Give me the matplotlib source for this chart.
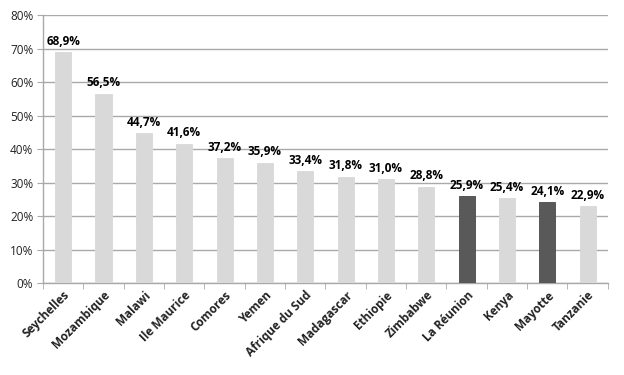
import matplotlib
matplotlib.use("Agg")
import matplotlib.pyplot as plt
from matplotlib.ticker import FixedLocator

categories = ["Seychelles", "Mozambique", "Malawi", "Ile Maurice", "Comores", "Yemen",
              "Afrique du Sud", "Madagascar", "Ethiopie", "Zimbabwe", "La Réunion",
              "Kenya", "Mayotte", "Tanzanie"]
values = [68.9, 56.5, 44.7, 41.6, 37.2, 35.9, 33.4, 31.8, 31.0, 28.8, 25.9, 25.4, 24.1, 22.9]
highlight = ["La Réunion", "Mayotte"]
yticks = [0, 10, 20, 30, 40, 50, 60, 70, 80]

plt.rcParams['font.family'] = ['Open Sans', 'DejaVu Sans']

fig = plt.figure(figsize=(6.24, 3.75), dpi=100)
ax = fig.add_axes([0.069, 0.245, 0.905, 0.715])

x = list(range(len(categories)))
colors = ["#595959" if c in highlight else "#d9d9d9" for c in categories]
edges = ["#4a4a4a" if c in highlight else "#d9d9d9" for c in categories]
ax.bar(x, values, width=0.4, color=colors, edgecolor=edges, linewidth=0.6, zorder=3)

for xi, v in zip(x, values):
    ax.text(xi, v + 1.3, f"{v:.1f}%".replace(".", ","), ha="center", va="bottom",
            fontsize=8.5, fontweight="bold", color="#000000", zorder=4)

ax.set_xlim(-0.5, len(categories) - 0.5)
ax.set_ylim(0, 80)
ax.set_yticks(yticks)
ax.set_yticklabels([f"{t}%" for t in yticks], fontsize=8.5, color="#222222")
ax.yaxis.grid(True, color="#a9a9a9", linewidth=1.0, zorder=0)
ax.set_axisbelow(True)

ax.set_xticks(x)
ax.set_xticklabels(categories, rotation=45, ha="right", rotation_mode="anchor",
                   fontsize=8.5, fontweight="bold", color="#222222")
ax.tick_params(axis="x", length=0, pad=4)
ax.xaxis.set_minor_locator(FixedLocator([i - 0.5 for i in range(len(categories) + 1)]))
ax.tick_params(axis="x", which="minor", length=4, color="#a9a9a9")
ax.tick_params(axis="y", length=4, color="#a9a9a9", pad=3)

for s in ["top", "right"]:
    ax.spines[s].set_visible(False)
for s in ["left", "bottom"]:
    ax.spines[s].set_color("#a9a9a9")
    ax.spines[s].set_linewidth(1.0)

fig.savefig("out.png", dpi=100)
